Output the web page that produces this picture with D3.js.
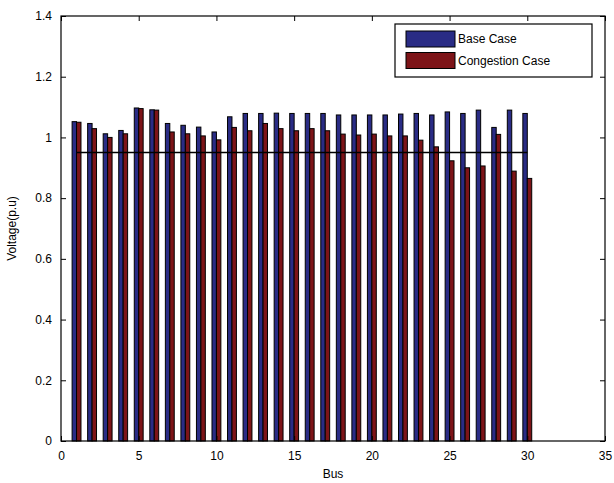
<!DOCTYPE html>
<html>
<head>
<meta charset="utf-8">
<script src="https://cdn.jsdelivr.net/npm/d3@7"></script>
<style>
  body { margin: 0; background: #fff; }
  text { font-family: "Liberation Sans", Arial, sans-serif; fill: #000; }
</style>
</head>
<body>
<div id="chart"></div>
<script>
// bus voltages
const buses = d3.range(1, 31);
const baseCase = [1.052, 1.046, 1.012, 1.023, 1.097, 1.091, 1.046, 1.040, 1.034, 1.018,
                  1.068, 1.079, 1.079, 1.080, 1.079, 1.079, 1.079, 1.074, 1.074, 1.074,
                  1.074, 1.077, 1.079, 1.074, 1.084, 1.079, 1.090, 1.033, 1.090, 1.079];
const congestionCase = [1.050, 1.029, 1.000, 1.012, 1.095, 1.090, 1.018, 1.012, 1.005, 0.992,
                        1.033, 1.022, 1.046, 1.029, 1.022, 1.029, 1.022, 1.011, 1.008, 1.011,
                        1.005, 1.005, 0.991, 0.969, 0.923, 0.900, 0.906, 1.010, 0.889, 0.865];
const limit = 0.95;
const xTicks = [0, 5, 10, 15, 20, 25, 30, 35];
const yTicks = [0, 0.2, 0.4, 0.6, 0.8, 1, 1.2, 1.4];
const seriesNames = ["Base Case", "Congestion Case"];
const colors = ["#2a2c85", "#7d1418"];

const W = 614, H = 483;
const margin = { top: 16, right: 9, bottom: 42, left: 61 };
const innerW = W - margin.left - margin.right;
const innerH = H - margin.top - margin.bottom;

const svg = d3.select("#chart").append("svg")
    .attr("width", W)
    .attr("height", H);
const g = svg.append("g")
    .attr("transform", `translate(${margin.left},${margin.top})`);

const x = d3.scaleLinear([0, 35], [0, innerW]);
const y = d3.scaleLinear([0, 1.4], [innerH, 0]);

const barW = 0.571 / 2;
const series = [baseCase, congestionCase];

series.forEach((vals, s) => {
    g.selectAll(".bar" + s)
        .data(buses)
        .join("rect")
        .attr("class", "bar" + s)
        .attr("x", d => x(d - barW + s * barW))
        .attr("width", x(barW) - x(0))
        .attr("y", (d, i) => y(vals[i]))
        .attr("height", (d, i) => y(0) - y(vals[i]))
        .attr("fill", colors[s])
        .attr("stroke", "#000")
        .attr("stroke-width", 1);
});

// limit line
g.append("line")
    .attr("x1", x(1)).attr("x2", x(30))
    .attr("y1", y(limit)).attr("y2", y(limit))
    .attr("stroke", "#000")
    .attr("stroke-width", 1.5);

// axes, matlab style: ticks inward on all four sides
const tl = 5;
g.append("g")
    .attr("transform", `translate(0,${innerH})`)
    .call(d3.axisBottom(x).tickValues(xTicks).tickSize(-tl).tickPadding(10).tickFormat(d3.format("d")))
    .call(a => a.select(".domain").remove())
    .selectAll("text").style("font-size", "12px").attr("font-family", null);
g.append("g")
    .call(d3.axisTop(x).tickValues(xTicks).tickSize(-tl).tickFormat(""))
    .call(a => a.select(".domain").remove());
g.append("g")
    .call(d3.axisLeft(y).tickValues(yTicks).tickSize(-tl).tickPadding(9).tickFormat(d => d === 0 || d === 1 ? d3.format("d")(d) : d3.format(".1f")(d)))
    .call(a => a.select(".domain").remove())
    .selectAll("text").style("font-size", "12px").attr("font-family", null);
g.append("g")
    .attr("transform", `translate(${innerW},0)`)
    .call(d3.axisRight(y).tickValues(yTicks).tickSize(-tl).tickFormat(""))
    .call(a => a.select(".domain").remove());

g.selectAll(".tick line").attr("stroke", "#000");

g.append("rect")
    .attr("width", innerW)
    .attr("height", innerH)
    .attr("fill", "none")
    .attr("stroke", "#000")
    .attr("stroke-width", 1.2);

// axis labels
svg.append("text")
    .attr("x", margin.left + innerW / 2)
    .attr("y", 478)
    .attr("text-anchor", "middle")
    .style("font-size", "12px")
    .text("Bus");
svg.append("text")
    .attr("transform", `translate(16,${margin.top + innerH / 2}) rotate(-90)`)
    .attr("text-anchor", "middle")
    .style("font-size", "12px")
    .text("Voltage(p.u)");

// legend
const leg = svg.append("g").attr("transform", "translate(395,24)");
leg.append("rect")
    .attr("width", 197).attr("height", 53)
    .attr("fill", "#fff").attr("stroke", "#000").attr("stroke-width", 1.2);
seriesNames.forEach((name, i) => {
    leg.append("rect")
        .attr("x", 11).attr("y", 7 + i * 21.5)
        .attr("width", 49).attr("height", 16)
        .attr("fill", colors[i]).attr("stroke", "#000");
    leg.append("text")
        .attr("x", 63).attr("y", 15 + i * 21.5)
        .attr("dy", "0.35em")
        .style("font-size", "12px")
        .text(name);
});
</script>
</body>
</html>
